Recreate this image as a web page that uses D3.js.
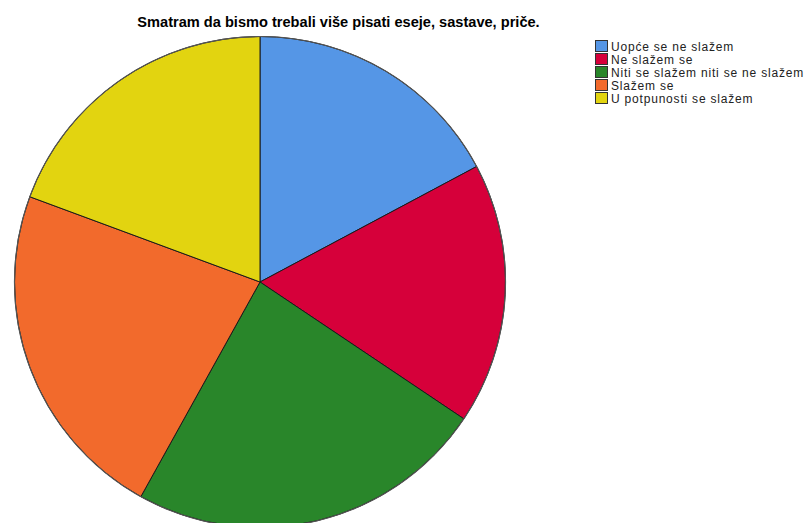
<!DOCTYPE html>
<html><head><meta charset="utf-8">
<script src="https://cdn.jsdelivr.net/npm/d3@7"></script>
<style>body{margin:0;background:#fff}svg{display:block}</style>
</head><body>
<script>
const title = "Smatram da bismo trebali više pisati eseje, sastave, priče.";
const categories = ["Uopće se ne slažem","Ne slažem se","Niti se slažem niti se ne slažem","Slažem se","U potpunosti se slažem"];
const values = [16,16,22,21,18];
const colors = ["#5596e6","#d6003a","#29862a","#f26a2c","#e2d410"];

const W=811,H=523;
const svg=d3.select("body").append("svg").attr("width",W).attr("height",H);
svg.append("text").attr("x",338.5).attr("y",27).attr("text-anchor","middle")
  .attr("font-family","Liberation Sans, Arial, sans-serif").attr("font-weight","bold")
  .attr("font-size",14.6).attr("fill","#000").text(title);

const cx=260,cy=282,r=245.5;
const pie=d3.pie().sort(null).value(d=>d)(values);
const arc=d3.arc().innerRadius(0).outerRadius(r);
const g=svg.append("g").attr("transform",`translate(${cx},${cy})`);
g.selectAll("path").data(pie).join("path").attr("d",arc)
  .attr("fill",(d,i)=>colors[i]).attr("stroke","#1a1a1a").attr("stroke-width",1).attr("stroke-linejoin","round");
g.append("circle").attr("r",r).attr("fill","none").attr("stroke","#555").attr("stroke-width",1.2);

const lg=svg.append("g").attr("transform","translate(595,40)");
categories.forEach((c,i)=>{
  const row=lg.append("g").attr("transform",`translate(0,${i*13})`);
  row.append("rect").attr("x",0.5).attr("y",0.5).attr("width",12).attr("height",11)
    .attr("fill",colors[i]).attr("stroke","#333").attr("stroke-width",1);
  row.append("text").attr("x",16).attr("y",10.5).attr("font-family","Liberation Sans, Arial, sans-serif")
    .attr("font-size",12).attr("letter-spacing",0.8).attr("fill","#222").text(c);
});
</script>
</body></html>
